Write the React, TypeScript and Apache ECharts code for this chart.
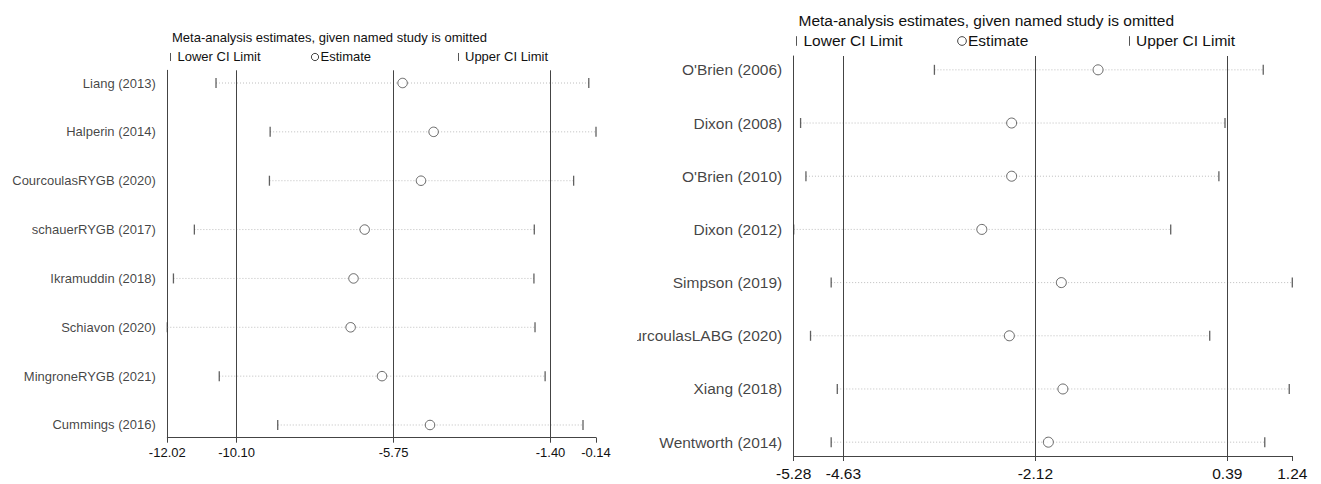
import React, { useEffect, useRef } from "react";
import * as echarts from "echarts";

// ---------- data ----------
const leftStudies = [
  "Liang (2013)",
  "Halperin (2014)",
  "CourcoulasRYGB (2020)",
  "schauerRYGB (2017)",
  "Ikramuddin (2018)",
  "Schiavon (2020)",
  "MingroneRYGB (2021)",
  "Cummings (2016)",
];
const leftLower = [-10.67, -9.17, -9.19, -11.27, -11.85, -12.02, -10.58, -8.96];
const leftEstimate = [-5.5, -4.64, -4.99, -6.55, -6.86, -6.94, -6.07, -4.74];
const leftUpper = [-0.34, -0.14, -0.76, -1.85, -1.86, -1.83, -1.55, -0.5];
const leftTicks = [-12.02, -10.1, -5.75, -1.4, -0.14];
const leftRefLines = [-10.1, -5.75, -1.4];

const rightStudies = [
  "O'Brien (2006)",
  "Dixon (2008)",
  "O'Brien (2010)",
  "Dixon (2012)",
  "Simpson (2019)",
  "CourcoulasLABG (2020)",
  "Xiang (2018)",
  "Wentworth (2014)",
];
const rightLower = [-3.44, -5.19, -5.12, -5.28, -4.79, -5.06, -4.71, -4.79];
const rightEstimate = [-1.3, -2.43, -2.43, -2.82, -1.78, -2.46, -1.76, -1.95];
const rightUpper = [0.86, 0.36, 0.28, -0.35, 1.24, 0.16, 1.2, 0.88];
const rightTicks = [-5.28, -4.63, -2.12, 0.39, 1.24];
const rightRefLines = [-4.63, -2.12, 0.39];

const titleText = "Meta-analysis estimates, given named study is omitted";
const legendLower = "Lower CI Limit";
const legendEstimate = "Estimate";
const legendUpper = "Upper CI Limit";

const FONT = "'Liberation Sans', Arial, Helvetica, sans-serif";
const LINE = "#444";
const TEXT = "#111";

type PanelCfg = {
  studies: string[];
  lower: number[];
  est: number[];
  upper: number[];
  ticks: number[];
  refs: number[];
  grid: { left: number; top: number; width: number; height: number };
  fontSize: number;
  labelMargin: number;
  circleSize: number;
  tickH: number;
  titlePos: [number, number];
  legendY: number;
  legendX: { bar1: number; lower: number; circle: number; est: number; bar2: number; upper: number };
};

function buildOption(c: PanelCfg): any {
  const xmin = c.ticks[0];
  const xmax = c.ticks[c.ticks.length - 1];
  const ciData = c.studies.map((_, i) => [c.lower[i], c.upper[i], i]);
  const tickData: number[][] = [];
  c.studies.forEach((_, i) => {
    tickData.push([c.lower[i], i]);
    tickData.push([c.upper[i], i]);
  });
  const txt = (text: string, x: number, y: number, size: number) => ({
    type: "text",
    x,
    y,
    silent: true,
    style: {
      text,
      fontSize: size,
      fontFamily: FONT,
      fill: TEXT,
      align: "left",
      verticalAlign: "middle",
    },
  });
  const bar = (x: number, y: number, h: number) => ({
    type: "line",
    silent: true,
    shape: { x1: x, y1: y - h / 2, x2: x, y2: y + h / 2 },
    style: { stroke: "#555", lineWidth: 1 },
  });
  const L = c.legendX;
  const barH = c.fontSize * 0.62;
  return {
    animation: false,
    backgroundColor: "#fff",
    grid: { ...c.grid, containLabel: false },
    xAxis: {
      type: "value",
      min: xmin,
      max: xmax,
      axisLine: { show: true, onZero: false, lineStyle: { color: LINE, width: 1 } },
      axisTick: {
        show: true,
        inside: false,
        length: 5,
        customValues: c.ticks,
        lineStyle: { color: LINE, width: 1 },
      },
      axisLabel: {
        show: true,
        customValues: c.ticks,
        formatter: (v: number) => v.toFixed(2),
        fontSize: c.fontSize,
        fontFamily: FONT,
        color: TEXT,
        margin: c.labelMargin,
      },
      splitLine: { show: false },
    },
    yAxis: {
      type: "value",
      min: -0.26,
      max: 7.26,
      inverse: true,
      axisLine: { show: true, onZero: false, lineStyle: { color: LINE, width: 1 } },
      axisTick: { show: false },
      axisLabel: { show: false },
      splitLine: { show: false },
    },
    graphic: [
      txt(titleText, c.titlePos[0], c.titlePos[1], c.fontSize),
      bar(L.bar1, c.legendY + 1, barH),
      txt(legendLower, L.lower, c.legendY, c.fontSize),
      {
        type: "circle",
        silent: true,
        shape: { cx: L.circle, cy: c.legendY + 1, r: c.fontSize * 0.28 },
        style: { fill: "#fff", stroke: LINE, lineWidth: 1 },
      },
      txt(legendEstimate, L.est, c.legendY, c.fontSize),
      bar(L.bar2, c.legendY + 1, barH),
      txt(legendUpper, L.upper, c.legendY, c.fontSize),
    ],
    series: [
      {
        type: "custom",
        name: "ci",
        silent: true,
        encode: { x: [0, 1], y: 2 },
        data: ciData,
        z: 1,
        renderItem: (params: any, api: any) => {
          const a = api.coord([api.value(0), api.value(2)]);
          const b = api.coord([api.value(1), api.value(2)]);
          return {
            type: "line",
            shape: { x1: a[0], y1: a[1], x2: b[0], y2: b[1] },
            style: { stroke: "#bdbdbd", lineWidth: 1, lineDash: [1, 2] },
          };
        },
      },
      {
        type: "scatter",
        name: "limits",
        silent: true,
        symbol: "rect",
        symbolSize: [1.3, c.tickH],
        itemStyle: { color: "#3a3a3a" },
        data: tickData,
        z: 2,
      },
      {
        type: "scatter",
        name: "estimate",
        silent: true,
        symbol: "circle",
        symbolSize: c.circleSize,
        itemStyle: { color: "#fff", borderColor: LINE, borderWidth: 1 },
        data: c.est.map((v, i) => [v, i]),
        z: 5,
        markLine: {
          silent: true,
          symbol: ["none", "none"],
          label: { show: false },
          lineStyle: { type: "solid", color: LINE, width: 1 },
          emphasis: { disabled: true },
          data: c.refs.map((v) => ({ xAxis: v })),
          z: 3,
        },
      },
      {
        type: "scatter",
        name: "labels",
        silent: true,
        symbol: "circle",
        symbolSize: 1,
        itemStyle: { color: "rgba(0,0,0,0)" },
        data: c.studies.map((n, i) => [xmin, i, n]),
        label: {
          show: true,
          position: "left",
          distance: 11,
          formatter: (p: any) => p.data[2],
          fontSize: c.fontSize,
          fontFamily: FONT,
          color: TEXT,
        },
      },
    ],
  };
}

const leftCfg: PanelCfg = {
  studies: leftStudies,
  lower: leftLower,
  est: leftEstimate,
  upper: leftUpper,
  ticks: leftTicks,
  refs: leftRefLines,
  grid: { left: 167.3, top: 70.3, width: 428.7, height: 367.4 },
  fontSize: 13,
  labelMargin: 8,
  circleSize: 9.5,
  tickH: 10,
  titlePos: [172, 37],
  legendY: 56,
  legendX: { bar1: 170.5, lower: 177.5, circle: 315, est: 320.5, bar2: 458.5, upper: 465 },
};

const RIGHT_OFFSET = 637;
const rightCfg: PanelCfg = {
  studies: rightStudies,
  lower: rightLower,
  est: rightEstimate,
  upper: rightUpper,
  ticks: rightTicks,
  refs: rightRefLines,
  grid: { left: 793.7 - RIGHT_OFFSET, top: 56, width: 498.6, height: 400 },
  fontSize: 15.5,
  labelMargin: 9,
  circleSize: 10,
  tickH: 10,
  titlePos: [798.5 - RIGHT_OFFSET, 20],
  legendY: 40,
  legendX: {
    bar1: 796.5 - RIGHT_OFFSET,
    lower: 803.5 - RIGHT_OFFSET,
    circle: 962 - RIGHT_OFFSET,
    est: 968 - RIGHT_OFFSET,
    bar2: 1129.5 - RIGHT_OFFSET,
    upper: 1136 - RIGHT_OFFSET,
  },
};

function Panel({ cfg, left, width }: { cfg: PanelCfg; left: number; width: number }) {
  const ref = useRef<HTMLDivElement>(null);
  useEffect(() => {
    if (!ref.current) return;
    const chart = echarts.init(ref.current, undefined, { renderer: "svg" });
    chart.setOption(buildOption(cfg));
    return () => chart.dispose();
  }, [cfg]);
  return (
    <div
      ref={ref}
      style={{
        position: "fixed",
        left,
        top: 0,
        width,
        height: 484,
        overflow: "hidden",
        background: "#fff",
      }}
    />
  );
}

export default function App() {
  return (
    <>
      <Panel cfg={leftCfg} left={0} width={RIGHT_OFFSET} />
      <Panel cfg={rightCfg} left={RIGHT_OFFSET} width={1321 - RIGHT_OFFSET} />
    </>
  );
}
